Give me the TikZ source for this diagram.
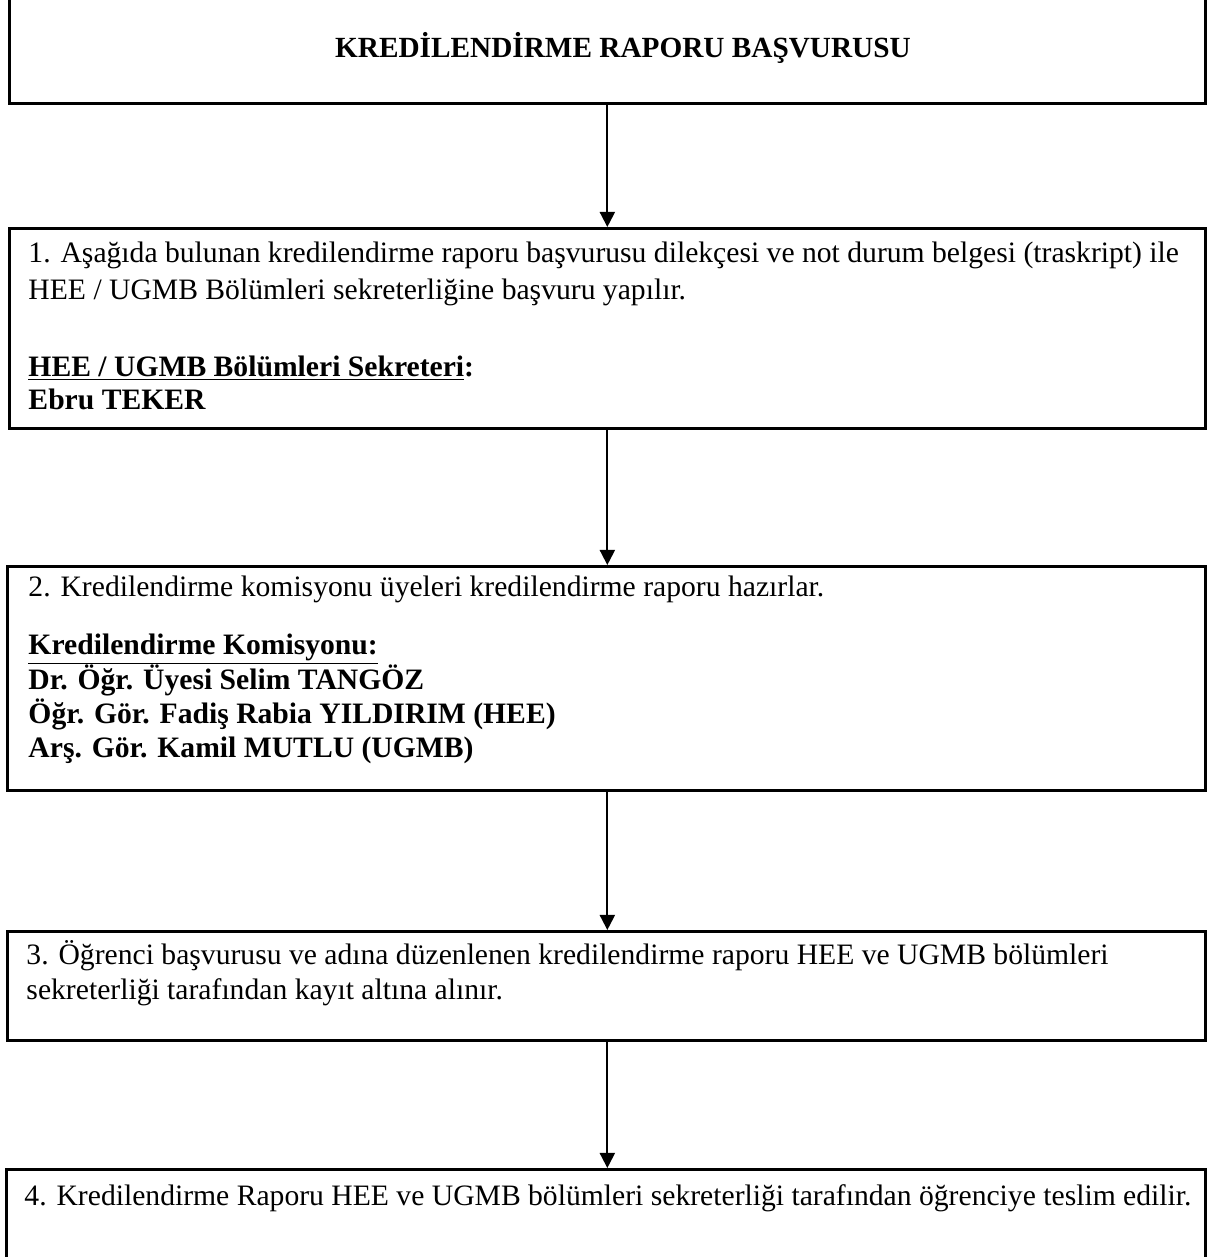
\documentclass[tikz,border=0pt]{standalone}
\usepackage{fontspec}
\setmainfont{Liberation Serif}
\usetikzlibrary{arrows.meta}
\tikzset{
  box/.style={draw=black, line width=1.1pt, inner sep=0pt, anchor=north west, minimum width=1196*0.41pt},
  arr/.style={line width=0.8pt, -{Triangle[width=6.2pt,length=6.2pt]}},
  txt/.style={anchor=base west, inner sep=0pt, font=\fontsize{12.15pt}{13.9pt}\selectfont},
  btxt/.style={txt, font=\fontsize{12.15pt}{13.9pt}\selectfont\bfseries}
}
\begin{document}
\begin{tikzpicture}[x=0.41pt, y=-0.41pt]
\useasboundingbox (0,0) rectangle (1211,1257);
\clip (0,0) rectangle (1211,1257);
% boxes
\node[box, minimum height=132*0.41pt] (b0) at (8,-30) {};
\node[box, minimum height=200*0.41pt] (b1) at (8,227) {};
\node[box, minimum height=224*0.41pt, minimum width=1198*0.41pt] (b2) at (6,565) {};
\node[box, minimum height=109*0.41pt, minimum width=1198*0.41pt] (b3) at (6,930) {};
\node[box, minimum height=140*0.41pt, minimum width=1199*0.41pt] (b4) at (5,1168) {};
% texts
\node[btxt, anchor=base, font=\fontsize{12pt}{13.9pt}\selectfont\bfseries] (t0) at (623,57) {KREDİLENDİRME RAPORU BAŞVURUSU};
\node[txt] (t1a) at (28,262) {1. Aşağıda bulunan kredilendirme raporu başvurusu dilekçesi ve not durum belgesi (traskript) ile};
\node[txt] (t1b) at (28,299) {HEE / UGMB Bölümleri sekreterliğine başvuru yapılır.};
\node[btxt] (t1c) at (28,376) {\underline{HEE / UGMB Bölümleri Sekreteri}:};
\node[btxt] (t1d) at (28,409) {Ebru TEKER};
\node[txt] (t2a) at (28,596) {2. Kredilendirme komisyonu üyeleri kredilendirme raporu hazırlar.};
\node[btxt] (t2b) at (28,654) {\underline{Kredilendirme Komisyonu:}};
\node[btxt] (t2c) at (28,689) {Dr. Öğr. Üyesi Selim TANGÖZ};
\node[btxt] (t2d) at (28,723) {Öğr. Gör. Fadiş Rabia YILDIRIM (HEE)};
\node[btxt] (t2e) at (28,757) {Arş. Gör. Kamil MUTLU (UGMB)};
\node[txt] (t3a) at (26,964) {3. Öğrenci başvurusu ve adına düzenlenen kredilendirme raporu HEE ve UGMB bölümleri};
\node[txt] (t3b) at (26,999) {sekreterliği tarafından kayıt altına alınır.};
\node[txt] (t4a) at (24,1205) {4. Kredilendirme Raporu HEE ve UGMB bölümleri sekreterliği tarafından öğrenciye teslim edilir.};
% arrows
\draw[arr] (b0.south) -- (b0.south |- b1.north);
\draw[arr] (b1.south) -- (b1.south |- b2.north);
\draw[arr] (b1.south |- b2.south) -- (b1.south |- b3.north);
\draw[arr] (b1.south |- b3.south) -- (b1.south |- b4.north);
\end{tikzpicture}
\end{document}
